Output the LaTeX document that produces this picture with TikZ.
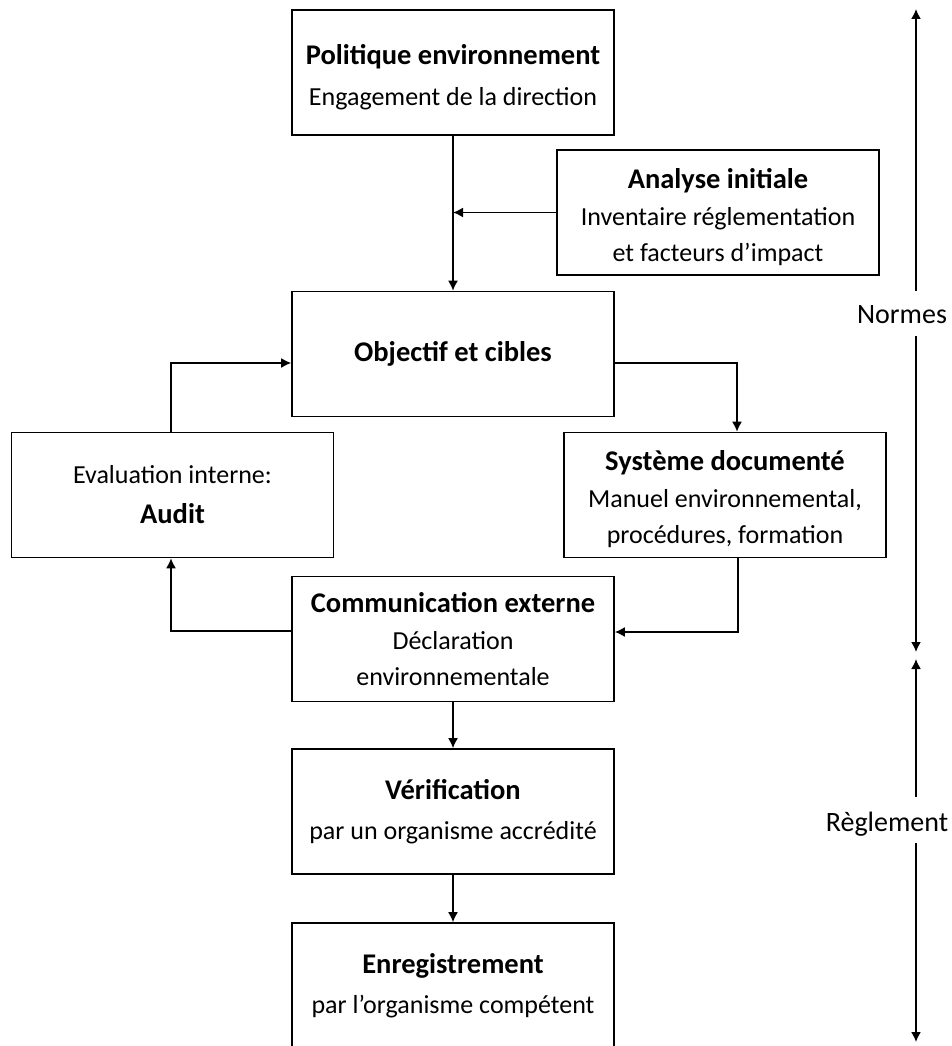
\documentclass[tikz,border=0pt]{standalone}
\usepackage{fontspec}
\setmainfont{Carlito}
\usetikzlibrary{arrows.meta}
\newcommand{\ttl}[1]{{\fontsize{28.5}{36}\selectfont\bfseries #1}}
\newcommand{\lowr}{\rule{0pt}{29pt}}
\begin{document}
\begin{tikzpicture}[x=1pt,y=-1pt,
  box/.style={draw,line width=1.6pt,minimum width=#1,minimum height=125pt,
    align=center,inner sep=0pt,font=\fontsize{26}{36}\selectfont},
  box/.default=322pt,
  arr/.style={line width=1.6pt,-{Latex[length=10pt,width=10pt]}},
  lab/.style={font=\fontsize{28}{32}\selectfont,inner sep=0pt,anchor=base}]
\useasboundingbox (0,0) rectangle (952,1046);
\node[box] (pol) at (453,72.5) {\lowr\ttl{Politique environnement}\\[5pt]Engagement de la direction};
\node[box] (ana) at (718,212.5) {\lowr\ttl{Analyse initiale}\\[1pt]Inventaire réglementation\\et facteurs d’impact};
\node[box] (obj) at (453,354) {\ttl{Objectif et cibles}};
\node[box] (aud) at (172.5,495) {Evaluation interne:\\[4pt]\ttl{Audit}};
\node[box] (sys) at (725,495) {\lowr\ttl{Système documenté}\\[1pt]Manuel environnemental,\\procédures, formation};
\node[box] (com) at (453,639) {\ttl{Communication externe}\\[1pt]Déclaration\\environnementale};
\node[box] (ver) at (453,811.5) {\ttl{Vérification}\\[4pt]par un organisme accrédité};
\node[box] (enr) at (453,985.5) {\ttl{Enregistrement}\\[4pt]par l’organisme compétent};

\draw[arr] (pol.south) -- (obj.north);
\draw[arr] (ana.west) -- (ana.west -| pol.south);
\draw[arr] ([yshift=-9pt]obj.east) -| ([xshift=12pt]sys.north);
\draw[arr] ([xshift=-1.5pt]aud.north) |- ([yshift=-9pt]obj.west);
\draw[arr] ([yshift=8pt]com.west) -| ([xshift=-1.5pt]aud.south);
\draw[arr] ([xshift=13pt]sys.south) |- ([yshift=7pt]com.east);
\draw[arr] (com.south) -- (ver.north);
\draw[arr] (ver.south) -- (enr.north);

\node[lab] (nor) at (902,323) {Normes};
\node[lab] (reg) at (887,831) {Règlement};
\coordinate (ra) at (916,9);
\coordinate (rb) at (916,291);
\coordinate (rc) at (916,336);
\coordinate (rd) at (916,652);
\coordinate (re) at (916,659);
\coordinate (rf) at (916,797);
\coordinate (rg) at (916,843);
\coordinate (rh) at (916,1042);
\draw[arr] (rb) -- (ra);
\draw[arr] (rc) -- (rd);
\draw[arr] (rf) -- (re);
\draw[arr] (rg) -- (rh);
\end{tikzpicture}
\end{document}
